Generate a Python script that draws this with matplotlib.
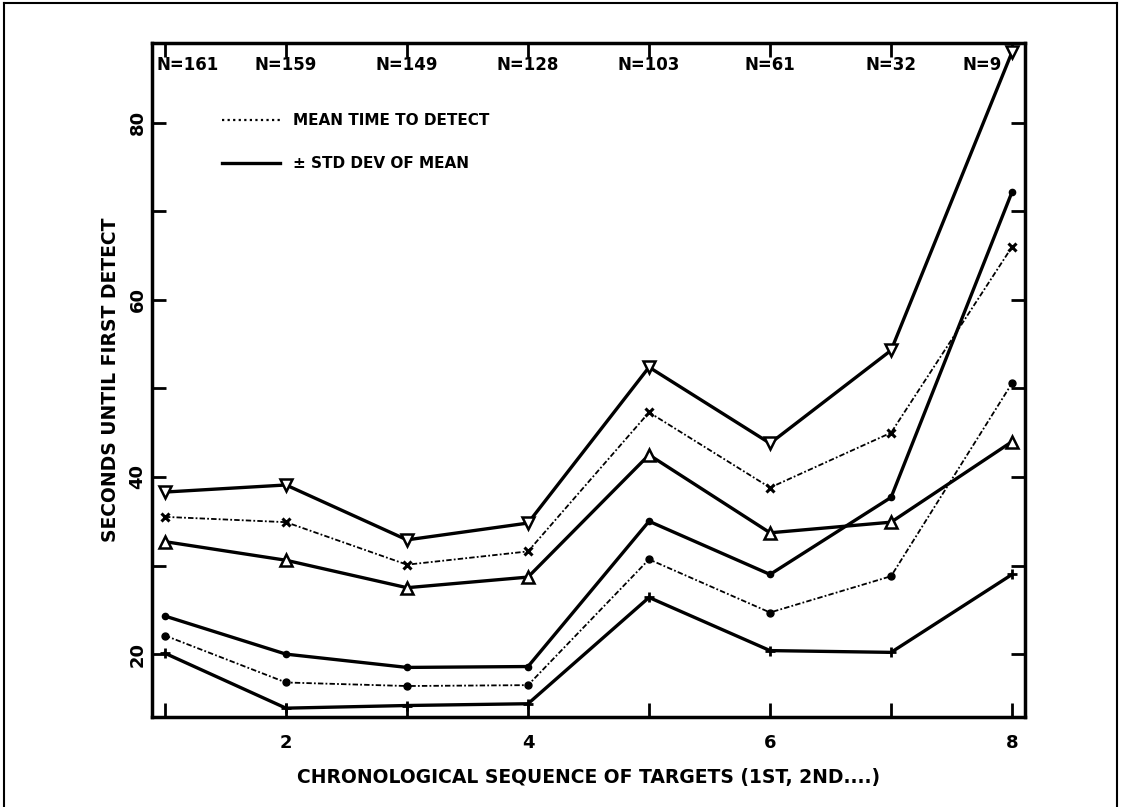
import matplotlib.pyplot as plt
from matplotlib.lines import Line2D

plt.rcParams['font.family'] = ['DejaVu Sans']
plt.rcParams['font.weight'] = 'bold'

# chronological target number and sample size at each
targets = [1, 2, 3, 4, 5, 6, 7, 8]
sample_sizes = [161, 159, 149, 128, 103, 61, 32, 9]

# first curve set (upper)
mean_a = [35.5, 34.9, 30.1, 31.6, 47.3, 38.8, 45.0, 66.0]
sd_hi_a = [38.3, 39.1, 32.9, 34.8, 52.4, 43.8, 54.3, 88.0]
sd_lo_a = [32.7, 30.6, 27.5, 28.7, 42.5, 33.7, 34.9, 44.0]

# second curve set (lower)
mean_b = [22.1, 16.8, 16.4, 16.5, 30.7, 24.7, 28.8, 50.6]
sd_hi_b = [24.3, 20.0, 18.5, 18.6, 35.0, 29.0, 37.7, 72.2]
sd_lo_b = [20.1, 13.9, 14.2, 14.4, 26.4, 20.4, 20.2, 29.0]

x_ticklabels = ['', '2', '', '4', '', '6', '', '8']
y_ticks = [20, 30, 40, 50, 60, 70, 80]
y_ticklabels = ['20', '', '40', '', '60', '', '80']

fig = plt.figure(figsize=(11.21, 8.07), dpi=100)
ax = fig.add_axes([0.1356, 0.1115, 0.7788, 0.8352])

solid = dict(color='black', lw=2.4, solid_joinstyle='miter')
dashdot = dict(color='black', lw=1.3, dashes=(3, 1.2, 1, 1.2))

ax.plot(targets, sd_hi_a, marker='v', ms=8, mfc='white', mec='black', mew=1.8, **solid)
ax.plot(targets, mean_a, marker='x', ms=6, mew=2.2, **dashdot)
ax.plot(targets, sd_lo_a, marker='^', ms=8, mfc='white', mec='black', mew=1.8, **solid)

ax.plot(targets, sd_hi_b, marker='o', ms=4.5, **solid)
ax.plot(targets, mean_b, marker='o', ms=5, **dashdot)
ax.plot(targets, sd_lo_b, marker='+', ms=7, mew=2, **solid)

ax.set_xlim(0.893, 8.107)
ax.set_ylim(12.9, 89.0)

ax.set_xticks(targets)
ax.set_xticklabels(x_ticklabels, fontsize=13, fontweight='bold')
ax.set_yticks(y_ticks)
ax.set_yticklabels(y_ticklabels, fontsize=13, fontweight='bold', rotation=90, va='center')
ax.tick_params(direction='in', length=10, width=2, top=True, right=True)
ax.tick_params(axis='x', pad=12)
ax.tick_params(axis='y', pad=4)
for spine in ax.spines.values():
    spine.set_linewidth(2.5)

ax.set_xlabel('CHRONOLOGICAL SEQUENCE OF TARGETS (1ST, 2ND....)', fontsize=13.5,
              fontweight='bold', labelpad=12)
ax.set_ylabel('SECONDS UNTIL FIRST DETECT', fontsize=13.5, fontweight='bold', labelpad=6)

# sample sizes along the top edge
for i, (t, n) in enumerate(zip(targets, sample_sizes)):
    ha, dx = 'center', 0
    if i == 0:
        ha, dx = 'left', -8
    elif i == len(targets) - 1:
        ha, dx = 'right', -10
    ax.annotate(f'N={n}', xy=(t, 0.967), xycoords=('data', 'axes fraction'),
                xytext=(dx, 0), textcoords='offset pixels', ha=ha, va='center',
                fontsize=12, fontweight='bold')

handles = [Line2D([], [], color='black', lw=1.6, ls=(0, (1, 1.5))),
           Line2D([], [], color='black', lw=2.4)]
ax.legend(handles, ['MEAN TIME TO DETECT', '\u00b1 STD DEV OF MEAN'],
          loc='upper left', bbox_to_anchor=(0.080, 0.896), frameon=False,
          borderpad=0, borderaxespad=0, handlelength=3.8, handletextpad=0.85,
          labelspacing=1.85, prop=dict(size=11, weight='bold'))

# scanned page border
for xs, ys in [((0.004, 0.996), (0.996, 0.996)),
               ((0.004, 0.004), (0.0, 0.996)),
               ((0.996, 0.996), (0.0, 0.996))]:
    fig.add_artist(Line2D(xs, ys, color='black', lw=1.5, transform=fig.transFigure))

fig.savefig('out.png', dpi=100)
